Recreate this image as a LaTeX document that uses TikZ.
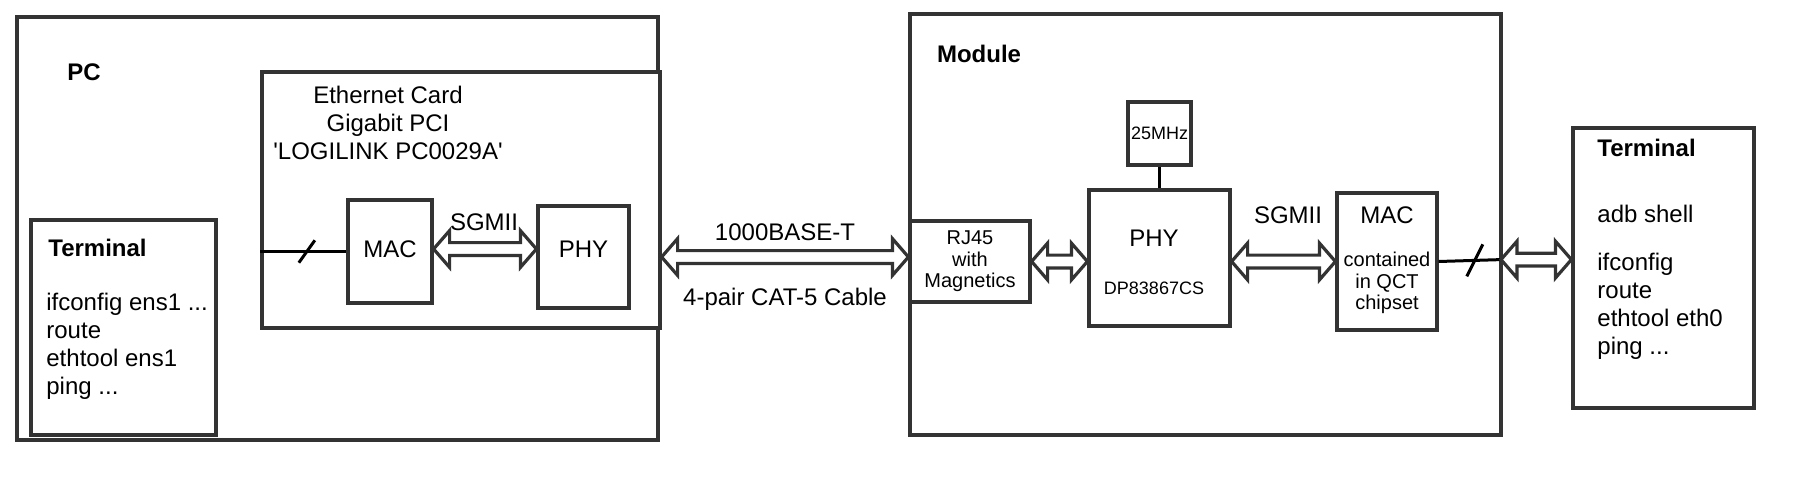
\documentclass[tikz,border=0pt]{standalone}
\usepackage{fontspec}
\setmainfont{Liberation Sans}
\usetikzlibrary{calc}
\definecolor{dark}{HTML}{333333}
\tikzset{
  box/.style={draw=dark, line width=1.6pt, fill=white, inner sep=0pt, align=center, font=\fontsize{12}{14}\selectfont},
  txt/.style={inner sep=0pt, align=center, font=\fontsize{12}{14}\selectfont},
  smalltxt/.style={txt, font=\fontsize{10}{10.8}\selectfont},
  tinytxt/.style={txt, font=\fontsize{9}{10}\selectfont},
  boldtxt/.style={txt, font=\bfseries\fontsize{12}{14}\selectfont},
  cmdtxt/.style={inner sep=0pt, align=left, anchor=north west, font=\fontsize{12}{14}\selectfont},
  wire/.style={draw=black, line width=1.5pt},
  flexarrow/.style={draw=dark, line width=1.6pt, fill=white, line join=miter,
    to path={let \p1=(\tikztostart), \p2=(\tikztotarget) in
      (\x1,\y1) -- (\x1+8pt,\y1+9.2pt) -- (\x1+8pt,\y1+3.2pt) -- (\x2-8pt,\y1+3.2pt)
      -- (\x2-8pt,\y1+9.2pt) -- (\x2,\y1) -- (\x2-8pt,\y1-9.2pt) -- (\x2-8pt,\y1-3.2pt)
      -- (\x1+8pt,\y1-3.2pt) -- (\x1+8pt,\y1-9.2pt) -- cycle}}
}

\begin{document}
\begin{tikzpicture}[x=1pt, y=-1pt]
  \useasboundingbox (0,0) rectangle (897,241);

  % PC side
  \node[box, minimum width=320.5pt, minimum height=211.5pt] (pc) at (168.75,114.25) {};
  \node[boldtxt] (pclbl) at (42,36) {PC};
  \node[box, minimum width=199pt, minimum height=128pt] (card) at (230.5,100) {};
  \node[txt] (cardlbl) at (194,61.5) {Ethernet Card\\Gigabit PCI\\\textquotesingle LOGILINK PC0029A\textquotesingle};
  \node[box, minimum width=42pt, minimum height=51.5pt] (macA) at (195,125.75) {};
  \node[txt] (macAlbl) at (195,124.5) {MAC};
  \node[box, minimum width=45.5pt, minimum height=51pt] (phyA) at (291.75,128.5) {};
  \node[txt] (phyAlbl) at (291.75,124.5) {PHY};
  \node[txt] (sgmiiA) at (242,111) {SGMII};
  \node[box, minimum width=92.5pt, minimum height=107.5pt] (termA) at (61.75,163.75) {};
  \node[boldtxt, anchor=west] (termAlbl) at (24,124) {Terminal};
  \node[cmdtxt] (termAcmd) at (23,146.5) {ifconfig ens1 ...\\route\\ethtool ens1\\ping ...};

  % module side
  \node[box, minimum width=295.5pt, minimum height=210.5pt] (module) at (602.75,112.25) {};
  \node[boldtxt] (modlbl) at (489.5,27) {Module};
  \node[box, font=\fontsize{10}{10.8}\selectfont, minimum width=60pt, minimum height=40.5pt] (rj) at (485,130.75) {RJ45\\with\\Magnetics};
  \node[box, font=\fontsize{9}{10}\selectfont, minimum width=31.5pt, minimum height=31.5pt] (clk) at (579.75,66.75) {25MHz};
  \node[box, minimum width=70.5pt, minimum height=68pt] (phyB) at (579.75,129) {};
  \node[txt] (phyBlbl) at (577,119) {PHY};
  \node[tinytxt] (phyBpart) at (577,144) {DP83867CS};
  \node[txt] (sgmiiB) at (644,107.5) {SGMII};
  \node[box, minimum width=50pt, minimum height=68.5pt] (macB) at (693.5,130.75) {};
  \node[txt] (macBlbl) at (693.5,107.5) {MAC};
  \node[smalltxt] (macBsub) at (693.5,141.5) {contained\\in QCT\\chipset};

  % terminal on the right
  \node[box, minimum width=90.5pt, minimum height=140pt] (termB) at (831.75,134) {};
  \node[boldtxt, anchor=west] (termBlbl) at (798.5,74) {Terminal};
  \node[cmdtxt] (termBshell) at (798.5,102.2) {adb shell};
  \node[cmdtxt] (termBcmd) at (798.5,126.2) {ifconfig\\route\\ethtool eth0\\ping ...};

  % links
  \coordinate (busB) at (750.5,129.8);
  \draw[wire] (card.west |- macA) -- coordinate[pos=0.54] (slashA) (macA.west);
  \draw[wire] ($(slashA)+(-4,5.6)$) -- ($(slashA)+(4,-5.6)$);
  \draw[flexarrow] (macA.east |- phyAlbl) to (phyA.west |- phyAlbl);
  \draw[flexarrow] (card.east |- phyA) to (rj.west |- phyA);
  \node[txt] (baselbl) at (392.5,116) {1000BASE-T};
  \node[txt] (cablelbl) at (392.5,149.5) {4-pair CAT-5 Cable};
  \draw[flexarrow] (rj.east) to (phyB.west |- rj);
  \draw[wire] (clk.south) -- (phyB.north);
  \draw[flexarrow] (phyB.east |- macB) to (macB.west);
  \draw[wire] (macB.east) -- coordinate[pos=0.58] (slashB) (busB);
  \draw[wire] ($(slashB)+(-4,8)$) -- ($(slashB)+(4,-8)$);
  \draw[flexarrow] (busB) to (termB.west |- busB);
\end{tikzpicture}
\end{document}
